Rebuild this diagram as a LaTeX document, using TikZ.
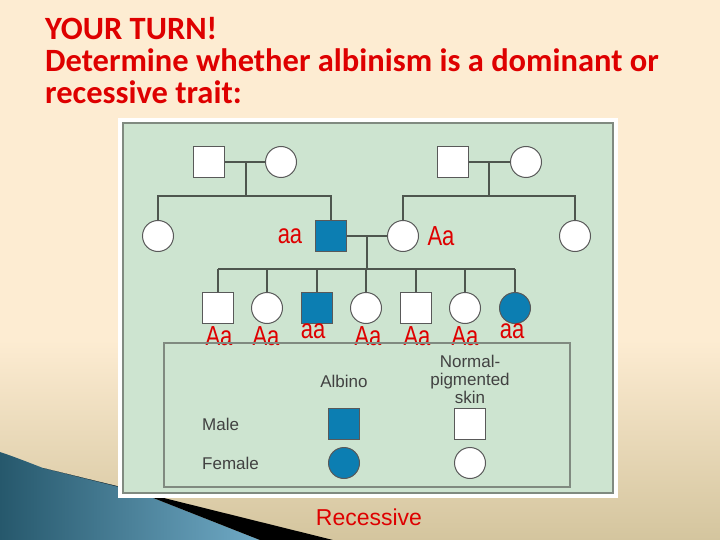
\documentclass[tikz,border=0pt]{standalone}
\usepackage{fontspec}
\setmainfont{Liberation Sans}
\newfontfamily\titlefont{Carlito}
\usepackage{xcolor}
\usepackage{tikz}

\definecolor{cream}{RGB}{253,236,210}
\definecolor{tanbg}{RGB}{212,197,158}
\definecolor{panel}{RGB}{205,228,208}
\definecolor{panelrim}{RGB}{128,138,128}
\definecolor{albino}{RGB}{12,126,178}
\definecolor{titlered}{RGB}{222,0,0}
\definecolor{pedline}{RGB}{78,86,78}
\definecolor{keytext}{RGB}{65,65,65}
\definecolor{swdark}{RGB}{38,88,108}
\definecolor{swlight}{RGB}{112,170,198}

\newcommand{\tallstr}[1]{\scalebox{1}[1.25]{#1}}

\begin{document}
\begin{tikzpicture}[x=1pt,y=-1pt,
	male/.style={draw=black!65, line width=1pt, fill=white, minimum size=31pt, inner sep=0pt},
	female/.style={male, circle},
	affected/.style={fill=albino},
	link/.style={draw=pedline, line width=1.8pt},
	geno/.style={text=titlered, inner sep=0pt, font=\fontsize{22}{22}\selectfont},
	key/.style={text=keytext, inner sep=0pt, font=\fontsize{17}{18}\selectfont},
	title/.style={anchor=base west, inner sep=0pt, text=titlered, font=\titlefont\bfseries\fontsize{32.5}{32.5}\selectfont}]
	\useasboundingbox (0,0) rectangle (720,540);
	% background
	\fill[cream] (0,0) rectangle (720,540);
	\shade[top color=cream, bottom color=tanbg] (0,340) rectangle (720,540);
	\shade[left color=swdark, right color=swlight] (0,452) .. controls (15,457) and (30,463) .. (43,468) -- (133,490) -- (260,540) -- (0,540) -- cycle;
	\fill[black] (43,468) -- (333,540) -- (260,540) -- (133,490) -- cycle;

	% title
	\node[title] (t1) at (45,40) {YOUR TURN!};
	\node[title] (t2) at (45,72) {Determine whether albinism is a dominant or};
	\node[title] (t3) at (45,104) {recessive trait:};

	% panel
	\filldraw[fill=panel, draw=white, line width=5pt] (120.5,120.5) rectangle (615.5,495.5);
	\draw[panelrim, line width=2pt] (123,123) rectangle (613,493);

	% generation I
	\node[male] (i1) at (209,162) {};
	\node[female] (i2) at (281,162) {};
	\node[male] (i3) at (453,162) {};
	\node[female] (i4) at (526,162) {};
	% generation II
	\node[female] (ii1) at (158,236) {};
	\node[male, affected] (ii2) at (331,236) {};
	\node[female] (ii3) at (403,236) {};
	\node[female] (ii4) at (575,236) {};
	% generation III
	\node[male] (iii1) at (218,308) {};
	\node[female] (iii2) at (267,308) {};
	\node[male, affected] (iii3) at (317,308) {};
	\node[female] (iii4) at (366,308) {};
	\node[male] (iii5) at (416,308) {};
	\node[female] (iii6) at (465,308) {};
	\node[female, affected] (iii7) at (515,308) {};

	\coordinate (m1) at (246,162);
	\coordinate (s1) at (246,196);
	\coordinate (m2) at (489,162);
	\coordinate (s2) at (489,196);
	\coordinate (m3) at (367,236);
	\coordinate (s3) at (367,269);

	\draw[link] (i1) -- (i2);
	\draw[link] (i3) -- (i4);
	\draw[link] (ii2) -- (ii3);
	\draw[link] (m1) -- (s1);
	\draw[link] (m2) -- (s2);
	\draw[link] (m3) -- (s3);
	\draw[link] (ii1.north) |- (s1) -| (ii2.north);
	\draw[link] (ii3.north) |- (s2) -| (ii4.north);
	\draw[link] (iii1.north |- s3) -- (iii7.north |- s3);
	\foreach \k in {1,...,7}
		\draw[link] (iii\k.north |- s3) -- (iii\k.north);

	% genotypes
	\node[geno] (g1) at (290,236) {\tallstr{aa}};
	\node[geno] (g2) at (441,236) {\tallstr{Aa}};
	\node[geno] (g3) at (219,336) {\tallstr{Aa}};
	\node[geno] (g4) at (266,336) {\tallstr{Aa}};
	\node[geno] (g5) at (313,331) {\tallstr{aa}};
	\node[geno] (g6) at (368,336) {\tallstr{Aa}};
	\node[geno] (g7) at (417,336) {\tallstr{Aa}};
	\node[geno] (g8) at (465,336) {\tallstr{Aa}};
	\node[geno] (g9) at (512,331) {\tallstr{aa}};

	% key
	\draw[panelrim, line width=1.5pt] (164,343) rectangle (570,487);
	\node[key] (albinohead) at (344,381) {Albino};
	\node[key, align=center] (normalhead) at (470,379) {Normal-\\pigmented\\skin};
	\node[key, anchor=west] (malekey) at (202,424) {Male};
	\node[key, anchor=west] (femalekey) at (202,463) {Female};
	\node[male, affected] (k1) at (344,424) {};
	\node[female, affected] (k2) at (344,463) {};
	\node[male] (k3) at (470,424) {};
	\node[female] (k4) at (470,463) {};

	\node[text=titlered, font=\fontsize{23}{23}\selectfont] (answer) at (369,517) {Recessive};
\end{tikzpicture}
\end{document}
